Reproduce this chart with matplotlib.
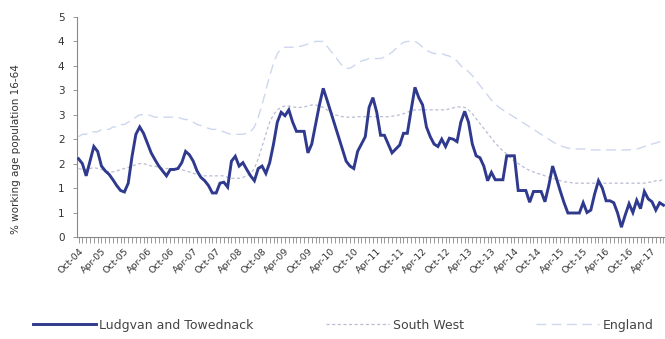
import matplotlib
matplotlib.use("Agg")
import matplotlib.pyplot as plt
import matplotlib.transforms as mtransforms
import numpy as np
import pandas as pd

# Monthly claimant rates, Oct-04 onwards
months = pd.date_range("2004-10-01", periods=154, freq="MS")

ludgvan = [
    1.60, 1.50, 1.25, 1.55, 1.85, 1.75, 1.45, 1.35, 1.28, 1.17, 1.05, 0.95,
    0.92, 1.10, 1.65, 2.10, 2.25, 2.12, 1.92, 1.72, 1.58, 1.45, 1.35, 1.25,
    1.38, 1.38, 1.40, 1.52, 1.75, 1.68, 1.55, 1.35, 1.22, 1.15, 1.05, 0.90,
    0.90, 1.10, 1.12, 1.02, 1.55, 1.65, 1.45, 1.52, 1.38, 1.25, 1.15, 1.40,
    1.45, 1.30, 1.52, 1.90, 2.35, 2.55, 2.48, 2.60, 2.35, 2.16, 2.16, 2.16,
    1.72, 1.90, 2.30, 2.70, 3.04, 2.80, 2.55, 2.30, 2.05, 1.80, 1.55, 1.45,
    1.40, 1.75, 1.90, 2.05, 2.65, 2.85, 2.55, 2.08, 2.08, 1.90, 1.72, 1.80,
    1.88, 2.12, 2.12, 2.60, 3.06, 2.85, 2.70, 2.25, 2.05, 1.90, 1.85, 2.00,
    1.85, 2.02, 2.00, 1.95, 2.35, 2.57, 2.35, 1.90, 1.66, 1.62, 1.45, 1.15,
    1.32, 1.17, 1.17, 1.17, 1.66, 1.66, 1.66, 0.95, 0.95, 0.95, 0.71, 0.93,
    0.93, 0.93, 0.72, 1.05, 1.45, 1.20, 0.94, 0.70, 0.49, 0.49, 0.49, 0.49,
    0.70, 0.50, 0.55, 0.88, 1.15, 1.00, 0.74, 0.74, 0.70, 0.49, 0.20, 0.45,
    0.68, 0.50, 0.75, 0.58, 0.93, 0.78, 0.72, 0.55, 0.70, 0.65,
]

south_west = [
    1.40, 1.38, 1.38, 1.40, 1.42, 1.40, 1.38, 1.35, 1.33, 1.33, 1.35, 1.38,
    1.40, 1.42, 1.45, 1.48, 1.50, 1.50, 1.48, 1.45, 1.45, 1.42, 1.40, 1.40,
    1.40, 1.40, 1.40, 1.38, 1.35, 1.33, 1.30, 1.28, 1.25, 1.25, 1.25, 1.25,
    1.25, 1.25, 1.25, 1.22, 1.20, 1.20, 1.20, 1.22, 1.25, 1.30, 1.40, 1.60,
    1.85, 2.10, 2.35, 2.50, 2.60, 2.65, 2.68, 2.68, 2.66, 2.65, 2.65, 2.66,
    2.68, 2.70, 2.70, 2.68, 2.65, 2.60, 2.55, 2.50, 2.48, 2.46, 2.45, 2.45,
    2.45, 2.46, 2.46, 2.46, 2.46, 2.46, 2.46, 2.46, 2.46, 2.46, 2.47, 2.48,
    2.50, 2.52, 2.55, 2.58, 2.60, 2.60, 2.60, 2.60, 2.60, 2.60, 2.60, 2.60,
    2.60, 2.62, 2.64, 2.66, 2.66, 2.65, 2.60, 2.52, 2.42, 2.32, 2.22, 2.12,
    2.02, 1.92, 1.84, 1.76, 1.70, 1.62, 1.55, 1.50, 1.45, 1.40, 1.36, 1.33,
    1.30, 1.28, 1.25, 1.22, 1.20, 1.18, 1.15, 1.13, 1.12, 1.11, 1.10, 1.10,
    1.10, 1.10, 1.10, 1.10, 1.10, 1.10, 1.10, 1.10, 1.10, 1.10, 1.10, 1.10,
    1.10, 1.10, 1.10, 1.10, 1.10, 1.12, 1.12, 1.15, 1.15, 1.18,
]

england = [
    2.05, 2.10, 2.10, 2.15, 2.15, 2.15, 2.20, 2.20, 2.20, 2.25, 2.25, 2.30,
    2.30, 2.35, 2.40, 2.45, 2.50, 2.50, 2.50, 2.48, 2.45, 2.45, 2.45, 2.45,
    2.45, 2.45, 2.45, 2.42, 2.40, 2.40, 2.35, 2.30, 2.28, 2.25, 2.22, 2.20,
    2.20, 2.18, 2.15, 2.12, 2.10, 2.10, 2.10, 2.10, 2.12, 2.15, 2.25, 2.45,
    2.70, 3.00, 3.30, 3.55, 3.75, 3.85, 3.88, 3.88, 3.88, 3.90, 3.90, 3.92,
    3.95, 3.97, 4.00, 4.00, 4.00, 3.90, 3.80, 3.70, 3.60, 3.50, 3.45, 3.45,
    3.50, 3.55, 3.60, 3.62, 3.65, 3.65, 3.65, 3.65, 3.68, 3.72, 3.78, 3.85,
    3.92, 3.98, 4.00, 4.00, 4.00, 3.95, 3.88, 3.82, 3.78, 3.75, 3.75, 3.75,
    3.72, 3.70, 3.65, 3.60, 3.50, 3.45, 3.38, 3.30, 3.20, 3.10, 3.00, 2.90,
    2.80, 2.72, 2.65, 2.60, 2.55, 2.50, 2.45, 2.40, 2.35, 2.30, 2.25, 2.20,
    2.15, 2.10, 2.05, 2.00, 1.95, 1.90, 1.87, 1.84, 1.82, 1.80, 1.80, 1.80,
    1.80, 1.80, 1.78, 1.78, 1.78, 1.78, 1.78, 1.78, 1.78, 1.78, 1.78, 1.78,
    1.78, 1.80, 1.80, 1.82, 1.85, 1.88, 1.90, 1.92, 1.95, 1.98,
]

series_names = ["Ludgvan and Towednack", "South West", "England"]
y_ticks = [0, 0.5, 1.0, 1.5, 2.0, 2.5, 3.0, 3.5, 4.0, 4.5]
y_tick_labels = ["0", "1", "1", "2", "2", "3", "3", "4", "4", "5"]
y_label = "% working age population 16-64"

x = np.arange(len(months))
tick_idx = x[::6]
tick_labels = [m.strftime("%b-%y") for m in months[::6]]

fig = plt.figure(figsize=(6.65, 3.39), dpi=100)
ax = fig.add_axes([0.1158, 0.301, 0.8842, 0.649])

ax.plot(x, england, color="#cdd7ee", lw=1.0, ls=(0, (7, 4)), label=series_names[2], zorder=2)
ax.plot(x, south_west, color="#b9bdd4", lw=0.9, ls=(0, (2.5, 2)), label=series_names[1], zorder=2)
ax.plot(x, ludgvan, color="#2f3a8f", lw=2.1, label=series_names[0], zorder=3,
        solid_joinstyle="miter")

ax.set_xlim(-0.4, 153.4)
ax.set_ylim(0, 4.5)

ax.set_yticks(y_ticks)
ax.set_yticklabels(y_tick_labels, fontsize=7.5, color="#333333")
ax.set_xticks(tick_idx)
ax.set_xticklabels(tick_labels, fontsize=6.8, rotation=45, ha="right",
                   rotation_mode="anchor", color="#333333")
shift = mtransforms.ScaledTranslation(-6 / 100, 0, fig.dpi_scale_trans)
for lbl in ax.get_xticklabels():
    lbl.set_transform(lbl.get_transform() + shift)
ax.set_xticks(x, minor=True)
ax.tick_params(axis="x", which="both", length=4, width=0.6, color="#888888", pad=3)
ax.tick_params(axis="y", length=3, width=0.6, color="#888888", pad=6)

for side in ("top", "right"):
    ax.spines[side].set_visible(False)
for side in ("left", "bottom"):
    ax.spines[side].set_color("#888888")
    ax.spines[side].set_linewidth(0.8)

ax.set_ylabel(y_label, fontsize=7.5, color="#333333")
ax.yaxis.set_label_coords(-0.095, 0.40)

handles, labels = ax.get_legend_handles_labels()
order = [2, 1, 0]
fig.legend([handles[i] for i in order], [labels[i] for i in order],
           loc="center", bbox_to_anchor=(0.516, 0.041), ncol=3, frameon=False,
           fontsize=9, handlelength=5.0, handletextpad=0.3, columnspacing=5.8,
           labelcolor="#444444")

fig.savefig("out.png", dpi=100)
